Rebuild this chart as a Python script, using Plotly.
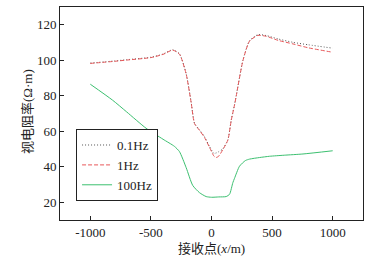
import plotly.graph_objects as go

x_low = [-1000, -800, -700, -500, -400, -320, -264, -209, -168, -140, -99, -58, -17, 20, 39, 60, 93, 135, 163, 190, 204, 259, 314, 383, 452, 550, 672, 800, 1000]
y_01hz = [98.4, 99.6, 100.3, 101.7, 103.5, 105.9, 103.6, 92.4, 76.5, 64.5, 60.8, 57.0, 51.5, 47.5, 47.8, 48.5, 50.0, 55.2, 66.4, 75.0, 80.0, 99.9, 111.0, 114.4, 113.9, 112.0, 110.1, 108.7, 106.8]
y_1hz = [98.2, 99.4, 100.1, 101.5, 103.3, 105.7, 103.4, 92.2, 76.2, 64.3, 60.5, 56.5, 51.0, 46.0, 45.2, 46.0, 49.6, 55.0, 66.2, 74.8, 79.8, 99.7, 110.8, 114.0, 113.5, 111.2, 109.2, 107.0, 104.5]

x_high = [-1000, -816, -700, -540, -400, -306, -264, -209, -155, -99, -44, 0, 60, 121, 149, 176, 190, 231, 280, 314, 397, 479, 600, 755, 1000]
y_100hz = [86.5, 77.5, 70.9, 61.7, 55.5, 51.5, 48.5, 39.5, 29.5, 25.4, 23.2, 22.8, 23.0, 23.2, 24.5, 31.0, 33.5, 40.3, 43.5, 44.3, 45.2, 45.9, 46.5, 47.2, 49.0]

names = ["0.1Hz", "1Hz", "100Hz"]
xticks = [-1000, -500, 0, 500, 1000]
yticks = [20, 40, 60, 80, 100, 120]

fig = go.Figure()
fig.add_trace(go.Scatter(x=x_low, y=y_01hz, name=names[0], mode="lines",
                         line=dict(color="#555555", width=1, dash="1px,2px", shape="spline", smoothing=0.6)))
fig.add_trace(go.Scatter(x=x_low, y=y_1hz, name=names[1], mode="lines",
                         line=dict(color="#e8585a", width=1, dash="4px,2px", shape="spline", smoothing=0.6)))
fig.add_trace(go.Scatter(x=x_high, y=y_100hz, name=names[2], mode="lines",
                         line=dict(color="#3cc070", width=1, shape="spline", smoothing=0.6)))

serif = "Liberation Serif, Times New Roman, serif"
cjk = "Liberation Serif, Noto Sans CJK SC"
fig.update_layout(
    width=377, height=256,
    margin=dict(l=60, r=14, t=7, b=36),
    paper_bgcolor="white", plot_bgcolor="white",
    font=dict(family=serif, size=13, color="#222222"),
    showlegend=True,
    legend=dict(x=0.053, y=0.089, xanchor="left", yanchor="bottom",
                bordercolor="#222222", borderwidth=1, bgcolor="white",
                font=dict(family=serif, size=13), itemwidth=30,
                tracegroupgap=0),
    xaxis=dict(range=[-1250, 1250], tickvals=xticks, ticktext=[str(v) for v in xticks],
               ticks="inside", ticklen=4, tickcolor="#222222", showgrid=False, zeroline=False,
               showline=True, linecolor="#222222", linewidth=1, mirror=True, automargin=False),
    yaxis=dict(range=[10, 130], tickvals=yticks, ticktext=[str(v) for v in yticks],
               ticks="inside", ticklen=4, tickcolor="#222222", showgrid=False, zeroline=False,
               showline=True, linecolor="#222222", linewidth=1, mirror=True, automargin=False),
    annotations=[
        dict(text="接收点(<i>x</i>/m)", x=0.5, y=-0.09, xref="paper", yref="paper",
             xanchor="center", yanchor="top", showarrow=False, font=dict(family=cjk, size=13)),
        dict(text="视电阻率(Ω·m)", x=(27 - 60) / 303, y=(220 - 112) / 213, xref="paper", yref="paper",
             xanchor="center", yanchor="middle",
             textangle=-90, showarrow=False, font=dict(family=cjk, size=13)),
    ],
)

fig.write_html("out.html", config={"displayModeBar": False},
               post_script="document.body.style.margin='0';document.body.style.overflow='hidden';")
